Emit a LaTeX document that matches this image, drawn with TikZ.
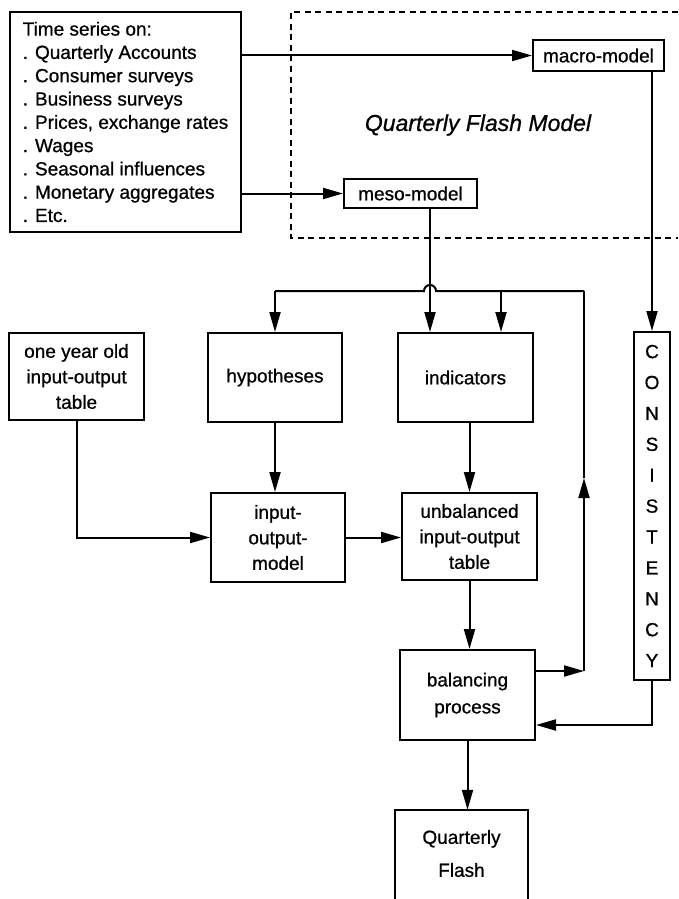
\documentclass[tikz,border=0pt]{standalone}
\usepackage{fontspec}
\setmainfont{Liberation Sans}[FakeBold=0.8,AutoFakeBold=0.8]
\usetikzlibrary{arrows.meta}
\begin{document}
\begin{tikzpicture}[x=1pt,y=-1pt,
  box/.style={draw,line width=2pt,inner sep=0pt,align=center,font=\fontsize{19}{25.5}\selectfont\bfseries},
  arr/.style={line width=2pt,-{Triangle[length=20pt,width=11pt]}},
  ln/.style={line width=2pt},
  dash box/.style={line width=1.8pt,dash pattern=on 6pt off 4.5pt}]
\useasboundingbox (0,0) rectangle (678,899);
% dashed frame of the Quarterly Flash Model
\draw[dash box] (678,12) -- (291,12) -- (291,238) -- (678,238);
\node[font=\fontsize{23}{27}\selectfont\itshape] (qfm) at (478,125) {Quarterly Flash Model};
% time series box
\node[box,align=left,font=\fontsize{19}{23.3}\selectfont\bfseries,minimum width=231pt,minimum height=220pt] (ts) at (125.5,122)
 {Time series on:\\. Quarterly Accounts\\. Consumer surveys\\. Business surveys\\. Prices, exchange rates\\. Wages\\. Seasonal influences\\. Monetary aggregates\\. Etc.};
\node[box,minimum width=131pt,minimum height=31pt] (macro) at (598.5,55.5) {macro-model};
\node[box,minimum width=133pt,minimum height=29pt] (meso) at (410.5,193.5) {meso-model};
% middle row
\node[box,minimum width=135pt,minimum height=87pt] (oy) at (76.5,376.5) {one year old\\input-output\\table};
\node[box,minimum width=134pt,minimum height=89pt] (hyp) at (275,377.5) {hypotheses};
\node[box,minimum width=135pt,minimum height=89pt] (ind) at (465.5,377.5) {indicators};
\node[box,minimum width=36pt,minimum height=348pt,font=\fontsize{19}{30.9}\selectfont\bfseries] (cons) at (652,506)
 {C\\O\\N\\S\\I\\S\\T\\E\\N\\C\\Y};
% lower rows
\node[box,minimum width=134pt,minimum height=89pt] (io) at (278,537.5) {input-\\output-\\model};
\node[box,minimum width=135pt,minimum height=87pt] (unb) at (469.5,536.5) {unbalanced\\input-output\\table};
\node[box,font=\fontsize{19}{27}\selectfont\bfseries,minimum width=135pt,minimum height=90pt] (bal) at (467.5,695) {balancing\\process};
\node[inner sep=0pt,align=center,font=\fontsize{19}{33}\selectfont\bfseries,minimum width=133pt,minimum height=87pt] (qf) at (461.5,853.5) {Quarterly\\Flash};
\draw[line width=2pt] (qf.north west |- 0,905) -- (qf.north west) -- (qf.north east) -- (qf.north east |- 0,905);
% coordinates of the feedback loop
\coordinate (jH) at (275,291);
\coordinate (jM) at (430,291);
\coordinate (jI) at (501,291);
\coordinate (jR) at (584,291);
\coordinate (fbR) at (584,671);
\coordinate (fbMid) at (584,478);
\coordinate (cB) at (652,725);
% connectors
\draw[arr] (ts.east |- macro.west) -- (macro.west);
\draw[arr] (ts.east |- meso.west) -- (meso.west);
\draw[arr] (cons.north |- macro.south) -- (cons.north);
\draw[arr] (jM |- meso.south) -- (jM |- ind.north);
\draw[ln] (jR) -- ([xshift=6pt]jM) arc[start angle=0,end angle=180,radius=6pt] -- (jH);
\draw[arr] (jH) -- (jH |- hyp.north);
\draw[arr] (jI) -- (jI |- ind.north);
\draw[arr] (bal.east |- fbR) -- (fbR);
\draw[arr] (fbR) -- (fbMid);
\draw[ln] (fbMid) -- (jR);
\draw[arr] (oy.south) |- (io.west);
\draw[arr] (hyp.south) -- (hyp.south |- io.north);
\draw[arr] (io.east) -- (io.east -| unb.west);
\draw[arr] (unb.north |- ind.south) -- (unb.north);
\draw[arr] (unb.south) -- (unb.south |- bal.north);
\draw[arr] (cons.south) -- (cB) -- (cB -| bal.east);
\draw[arr] (bal.south) -- (bal.south |- qf.north);
\end{tikzpicture}
\end{document}
